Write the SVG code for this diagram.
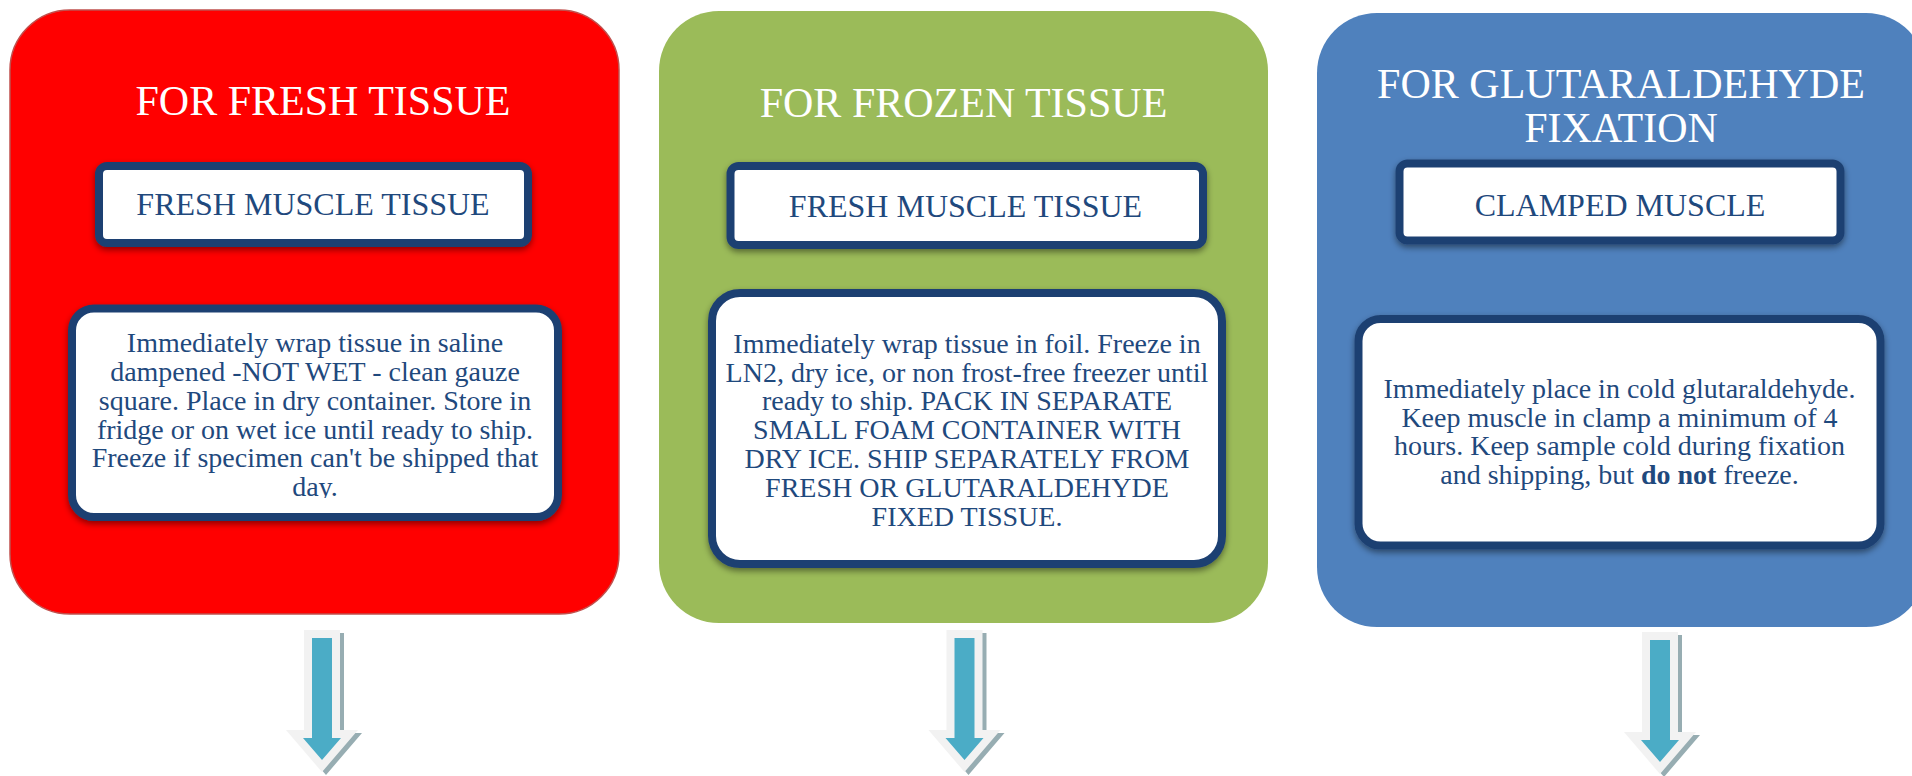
<svg xmlns="http://www.w3.org/2000/svg" xmlns:xlink="http://www.w3.org/1999/xlink" width="1912" height="776" viewBox="0 0 1912 776">
  <defs>
    <filter id="sh" x="-10%" y="-10%" width="120%" height="130%">
      <feDropShadow dx="0" dy="3" stdDeviation="3" flood-color="#000" flood-opacity="0.45"/>
    </filter>
    <clipPath id="clipRed">
      <rect x="76" y="313" width="478" height="185"/>
    </clipPath>
    <g id="arrow">
      <polygon points="-14,3 22,3 22,103 40,103 4,145 -32,103 -14,103" fill="#97adb2"/>
      <polygon points="-18,0 18,0 18,100 36,100 0,142 -36,100 -18,100" fill="#f2f2f2"/>
      <polygon points="-10,8 10,8 10,108 19,108 0,130 -19,108 -10,108" fill="#4bacc6"/>
    </g>
  </defs>
  <style>
    .title { font-family: "Liberation Serif", "Times New Roman", serif; font-size: 42px; fill: #ffffff; text-anchor: middle; }
    .sub { font-family: "Liberation Serif", "Times New Roman", serif; font-size: 32px; fill: #1f497d; text-anchor: middle; }
    .body { font-family: "Liberation Serif", "Times New Roman", serif; font-size: 28px; fill: #1f497d; text-anchor: middle; }
    .box { fill: #ffffff; stroke: #1f4172; stroke-width: 8; filter: url(#sh); }
  </style>
  <rect width="1912" height="776" fill="#ffffff"/>

  <g id="panel-fresh">
    <rect x="10" y="10" width="609" height="604" rx="60" fill="#ff0000" stroke="#c0504d" stroke-width="1.5"/>
    <text class="title" x="323" y="115">FOR FRESH TISSUE</text>
  </g>
  <g id="fresh-muscle-1">
    <rect class="box" x="99" y="166" width="429" height="77" rx="8"/>
    <text class="sub" x="313" y="215">FRESH MUSCLE TISSUE</text>
  </g>
  <g id="fresh-instructions">
    <rect class="box" x="72" y="308.5" width="486" height="208.5" rx="22"/>
    <g clip-path="url(#clipRed)">
      <text class="body" x="315" y="352">Immediately wrap tissue in saline</text>
      <text class="body" x="315" y="381">dampened -NOT WET - clean gauze</text>
      <text class="body" x="315" y="409.5">square. Place in dry container. Store in</text>
      <text class="body" x="315" y="438.5">fridge or on wet ice until ready to ship.</text>
      <text class="body" x="315" y="467">Freeze if specimen can't be shipped that</text>
      <text class="body" x="315" y="495.5">day.</text>
    </g>
  </g>

  <g id="panel-frozen">
    <rect x="659" y="11" width="609" height="612" rx="60" fill="#9bbb59"/>
    <text class="title" x="963.5" y="117">FOR FROZEN TISSUE</text>
  </g>
  <g id="fresh-muscle-2">
    <rect class="box" x="730.5" y="166" width="472.5" height="79" rx="8"/>
    <text class="sub" x="965.5" y="217">FRESH MUSCLE TISSUE</text>
  </g>
  <g id="frozen-instructions">
    <rect class="box" x="712" y="293" width="510" height="271" rx="28"/>
    <text class="body" x="967" y="353">Immediately wrap tissue in foil. Freeze in</text>
    <text class="body" x="967" y="381.5">LN2, dry ice, or non frost-free freezer until</text>
    <text class="body" x="967" y="410">ready to ship. PACK IN SEPARATE</text>
    <text class="body" x="967" y="439">SMALL FOAM CONTAINER WITH</text>
    <text class="body" x="967" y="468">DRY ICE. SHIP SEPARATELY FROM</text>
    <text class="body" x="967" y="496.5">FRESH OR GLUTARALDEHYDE</text>
    <text class="body" x="967" y="525.5">FIXED TISSUE.</text>
  </g>

  <g id="panel-glutaraldehyde">
    <rect x="1317" y="13" width="609" height="614" rx="60" fill="#4f81bd"/>
    <text class="title" x="1621" y="98">FOR GLUTARALDEHYDE</text>
    <text class="title" x="1621" y="142">FIXATION</text>
  </g>
  <g id="clamped-muscle">
    <rect class="box" x="1399.5" y="163.5" width="441" height="77" rx="8"/>
    <text class="sub" x="1620" y="216">CLAMPED MUSCLE</text>
  </g>
  <g id="glutaraldehyde-instructions">
    <rect class="box" x="1358.5" y="319" width="522" height="226.5" rx="22"/>
    <text class="body" x="1619.5" y="398">Immediately place in cold glutaraldehyde.</text>
    <text class="body" x="1619.5" y="426.5">Keep muscle in clamp a minimum of 4</text>
    <text class="body" x="1619.5" y="455">hours. Keep sample cold during fixation</text>
    <text class="body" x="1619.5" y="483.5">and shipping, but <tspan font-weight="bold">do not</tspan> freeze.</text>
  </g>

  <g id="connectors">
    <use xlink:href="#arrow" transform="translate(322,630)"/>
    <use xlink:href="#arrow" transform="translate(964.5,630)"/>
    <use xlink:href="#arrow" transform="translate(1660,632)"/>
  </g>
</svg>
